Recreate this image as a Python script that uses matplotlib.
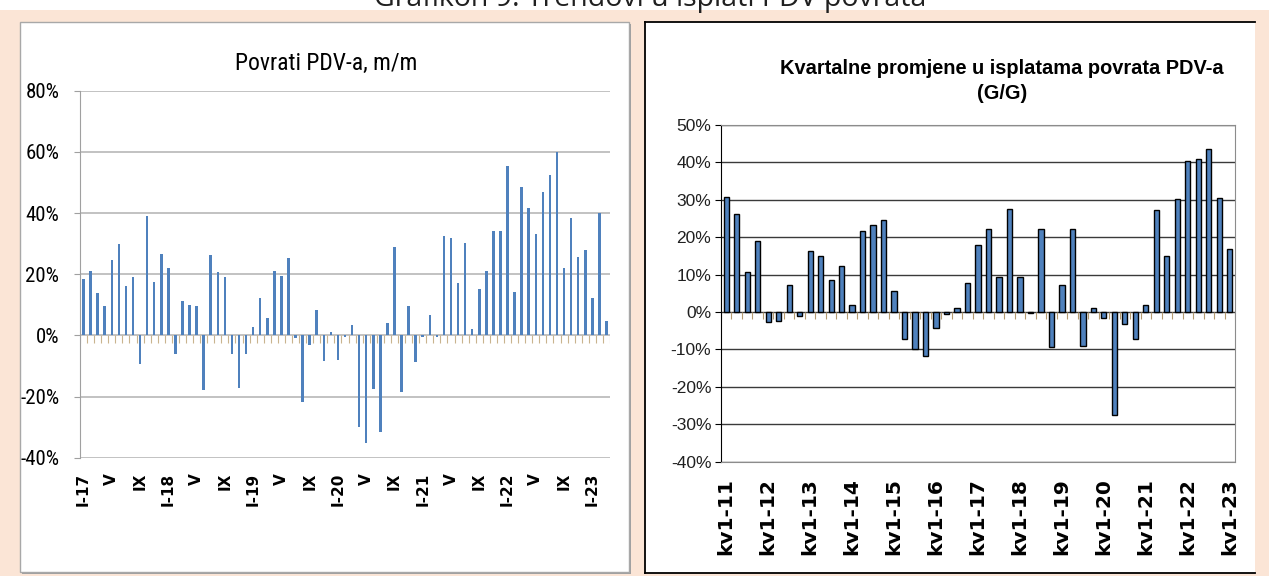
import numpy as np
import matplotlib
matplotlib.use('Agg')
import matplotlib.pyplot as plt
from matplotlib import font_manager
from matplotlib.patches import Rectangle
from matplotlib.lines import Line2D

# monthly VAT refunds, m/m change in % (I-17 .. III-23)
monthly_changes = [
    18.3, 21.1, 13.7, 9.6, 24.8, 29.9, 16.2, 19.0, -9.2, 39.1, 17.5, 26.6,
    21.9, -6.1, 11.2, 9.9, 9.6, -17.9, 26.2, 20.7, 19.1, -6.1, -17.3, -6.1,
    2.6, 12.1, 5.6, 21.1, 19.4, 25.3, -1.0, -21.9, -3.2, 8.4, -8.3, 1.2,
    -8.1, -0.5, 3.4, -29.9, -35.3, -17.7, -31.5, 4.1, 28.8, -18.5, 9.5, -8.7,
    -0.4, 6.6, -0.4, 32.6, 31.7, 17.1, 30.2, 2.0, 15.0, 21.0, 34.2, 34.2,
    55.3, 14.1, 48.6, 41.5, 33.0, 47.0, 52.3, 60.1, 21.9, 38.4, 25.7, 27.8,
    12.1, 40.1, 4.6,
]
month_labels = ['I-17', 'V', 'IX', 'I-18', 'V', 'IX', 'I-19', 'V', 'IX',
                'I-20', 'V', 'IX', 'I-21', 'V', 'IX', 'I-22', 'V', 'IX', 'I-23']
month_yticks = [-40, -20, 0, 20, 40, 60, 80]

# quarterly changes y/y in % (kv1-11 .. kv1-23)
quarterly_changes = [
    30.7, 26.2, 10.7, 18.9, -2.7, -2.3, 7.3, -1.1, 16.2, 14.9, 8.7, 12.4,
    2.0, 21.7, 23.2, 24.5, 5.6, -7.3, -10.0, -11.8, -4.2, -0.4, 1.2, 7.7,
    18.0, 22.1, 9.4, 27.6, 9.4, -0.3, 22.1, -9.4, 7.1, 22.1, -9.1, 1.1,
    -1.6, -27.6, -3.1, -7.3, 2.0, 27.4, 15.0, 30.3, 40.3, 40.8, 43.5, 30.5,
    16.9,
]
quarter_labels = ['kv1-11', 'kv1-12', 'kv1-13', 'kv1-14', 'kv1-15', 'kv1-16',
                  'kv1-17', 'kv1-18', 'kv1-19', 'kv1-20', 'kv1-21', 'kv1-22',
                  'kv1-23']
quarter_yticks = [-40, -30, -20, -10, 0, 10, 20, 30, 40, 50]

names = {f.name for f in font_manager.fontManager.ttflist}
NARROW = 'Liberation Sans'
for cand in ['Liberation Sans Narrow', 'Roboto Condensed', 'Open Sans Condensed']:
    if cand in names:
        NARROW = cand
        break
ARIAL = 'Liberation Sans'

BLUE = '#4F81BD'
PEACH = '#FBE5D6'

W, H = 1269, 576
fig = plt.figure(figsize=(W / 100, H / 100), dpi=100, facecolor=PEACH)


def fx(px):
    return px / W


def fy(py):
    return 1 - py / H


# white strip and (partly clipped) heading at the top
fig.add_artist(Rectangle((0, fy(10)), 1, 10 / H, transform=fig.transFigure,
                         facecolor='white', edgecolor='none', zorder=0))
fig.text(fx(650), fy(6), 'Grafikon 9: Trendovi u isplati PDV povrata',
         ha='center', va='baseline', fontsize=20.5, family='Open Sans',
         color='#202020')

# panel boxes
fig.add_artist(Rectangle((fx(22), fy(574)), fx(609), 550 / H, transform=fig.transFigure,
                         facecolor='#A0A0A0', edgecolor='none', zorder=0))
fig.add_artist(Rectangle((fx(20), fy(572)), fx(609), 550 / H, transform=fig.transFigure,
                         facecolor='white', edgecolor='#A8A8A8', lw=1.0, zorder=0))
fig.add_artist(Rectangle((fx(645), fy(573)), fx(610), 551 / H, transform=fig.transFigure,
                         facecolor='white', edgecolor='none', zorder=0))
for xs, ys in [((645, 1255), (22, 22)), ((645, 645), (22, 573)), ((645, 1255), (573, 573))]:
    fig.add_artist(Line2D([fx(xs[0]), fx(xs[1])], [fy(ys[0]), fy(ys[1])],
                          transform=fig.transFigure, color='black', lw=1.3))

# ---------------- left: monthly ----------------
ax1 = fig.add_axes([fx(80), fy(457.7), fx(530), (457.7 - 90.7) / H])
ax1.set_facecolor('none')
n1 = len(monthly_changes)
x1 = np.arange(n1)
ax1.bar(x1, monthly_changes, width=0.36, color=BLUE, zorder=3)
ax1.vlines(np.arange(n1 + 1) - 0.5, -2.6, 0, color='#C9B48E', lw=0.8, zorder=2)
ax1.set_xlim(-0.5, n1 - 0.5)
ax1.set_ylim(-40, 80)
ax1.set_yticks(month_yticks)
ax1.set_yticklabels([f'{v}%' for v in month_yticks], family=NARROW, fontsize=15)
ax1.set_xticks(x1[::4])
ax1.set_xticklabels(month_labels, rotation=90, fontsize=11, fontweight='bold',
                    family='DejaVu Sans', va='top')
ax1.tick_params(axis='x', length=0, pad=11)
ax1.tick_params(axis='y', length=4, color='#A0A0A0', pad=11)
ax1.grid(axis='y', color='#BDBDBD', lw=1.3, zorder=0)
for s in ['top', 'right', 'bottom']:
    ax1.spines[s].set_visible(False)
ax1.spines['left'].set_color('#A0A0A0')
fig.text(fx(326), fy(63), 'Povrati PDV-a, m/m', ha='center', va='center',
         family=NARROW, fontsize=17)

# ---------------- right: quarterly ----------------
ax2 = fig.add_axes([fx(721), fy(461.7), fx(514), (461.7 - 125) / H])
ax2.set_facecolor('none')
n2 = len(quarterly_changes)
x2 = np.arange(n2)
ax2.bar(x2, quarterly_changes, width=0.5, color=BLUE, edgecolor='black', lw=1.0, zorder=3)
ax2.vlines(np.arange(n2 + 1) - 0.5, -1.8, 0, color='#B49A70', lw=0.8, zorder=2)
ax2.set_xlim(-0.5, n2 - 0.5)
ax2.set_ylim(-40, 50)
ax2.set_yticks(quarter_yticks)
ax2.set_yticklabels([f'{v}%' for v in quarter_yticks], family=ARIAL, fontsize=12.5,
                    color='#202020')
ax2.set_xticks(x2[::4])
ax2.set_xticklabels(quarter_labels, rotation=90, fontsize=14.5, fontweight='bold',
                    family='DejaVu Sans', va='top')
ax2.tick_params(axis='x', length=0, pad=12)
ax2.tick_params(axis='y', length=4, color='black', pad=3)
ax2.grid(axis='y', color='#3A3A3A', lw=1.0, zorder=0)
ax2.spines['left'].set_color('black')
for s in ['top', 'right', 'bottom']:
    ax2.spines[s].set_color('#8C8C8C')
fig.text(fx(1002), fy(81), 'Kvartalne promjene u isplatama povrata PDV-a\n(G/G)',
         ha='center', va='center', multialignment='center', family=ARIAL,
         fontweight='bold', fontsize=14.4, linespacing=1.35)

fig.savefig('out.png', dpi=100, facecolor=PEACH)
